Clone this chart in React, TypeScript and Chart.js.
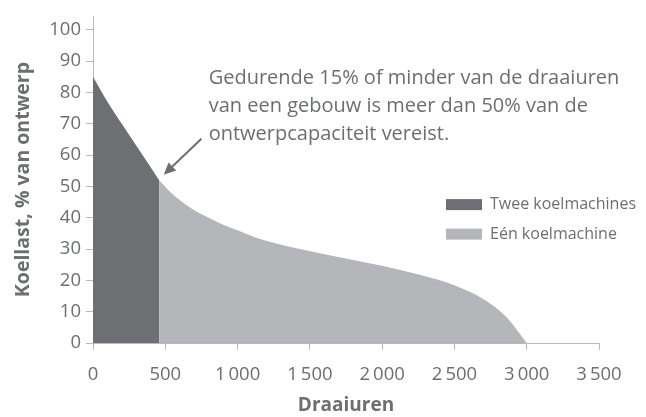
import { useEffect, useRef } from 'react';
import { Chart, registerables } from 'chart.js';

Chart.register(...registerables);

// Data (hours, % of design load)
const hoursTwo = [0, 104, 254, 415, 457];
const loadTwo = [85, 76.7, 66.2, 55.0, 52.0];
const hoursOne = [457, 542, 658, 773, 889, 1004, 1119, 1430, 1661, 2007, 2260, 2491, 2722, 2861, 2953, 3000];
const loadOne = [52.0, 47.9, 43.7, 40.6, 38.0, 35.9, 33.8, 30.0, 27.8, 24.6, 21.8, 18.6, 13.4, 8.2, 2.9, 0];

const xTicks = [0, 500, 1000, 1500, 2000, 2500, 3000, 3500];
const yTicks = [0, 10, 20, 30, 40, 50, 60, 70, 80, 90, 100];

const legendLabels = ['Twee koelmachines', 'Eén koelmachine'];
const xTitle = 'Draaiuren';
const yTitle = 'Koellast, % van ontwerp';
const noteLines = [
  'Gedurende 15% of minder van de draaiuren',
  'van een gebouw is meer dan 50% van de',
  'ontwerpcapaciteit vereist.',
];
const noteAnchor = { x: 800, y: 84.6 };
const arrowFrom = { x: 750, y: 65.2 };
const arrowTo = { x: 489, y: 53.7 };

const DARK = '#6e6f72';
const LIGHT = '#b5b6b9';
const TEXT = '#6d6e70';
const AXIS = '#b9b9b9';
const FONT = "'Open Sans', sans-serif";

function fmtX(v: number): string {
  if (v >= 1000) {
    const th = Math.floor(v / 1000);
    const rest = String(v % 1000).padStart(3, '0');
    return th + '\u2009' + rest;
  }
  return String(v);
}

const overlayPlugin = {
  id: 'overlay',
  afterDraw(chart: any) {
    const { ctx, chartArea, scales } = chart;
    const xs = scales.x;
    const ys = scales.y;
    ctx.save();
    // annotation text
    ctx.fillStyle = TEXT;
    ctx.font = `20px ${FONT}`;
    ctx.textBaseline = 'middle';
    ctx.textAlign = 'left';
    const tx = xs.getPixelForValue(noteAnchor.x);
    const ty = ys.getPixelForValue(noteAnchor.y);
    noteLines.forEach((line, i) => ctx.fillText(line, tx, ty + i * 28));

    // arrow
    const x1 = xs.getPixelForValue(arrowFrom.x);
    const y1 = ys.getPixelForValue(arrowFrom.y);
    const x2 = xs.getPixelForValue(arrowTo.x);
    const y2 = ys.getPixelForValue(arrowTo.y);
    const ang = Math.atan2(y2 - y1, x2 - x1);
    const headLen = 12;
    const headW = 5.5;
    const bx = x2 - headLen * Math.cos(ang);
    const by = y2 - headLen * Math.sin(ang);
    ctx.strokeStyle = TEXT;
    ctx.lineWidth = 2;
    ctx.beginPath();
    ctx.moveTo(x1, y1);
    ctx.lineTo(bx, by);
    ctx.stroke();
    ctx.beginPath();
    ctx.moveTo(x2, y2);
    ctx.lineTo(bx + headW * Math.sin(ang), by - headW * Math.cos(ang));
    ctx.lineTo(bx - headW * Math.sin(ang), by + headW * Math.cos(ang));
    ctx.closePath();
    ctx.fillStyle = TEXT;
    ctx.fill();

    // legend
    const colors = [DARK, LIGHT];
    const lx = chartArea.right - 153;
    const ly = chartArea.top + 183;
    ctx.font = `16px ${FONT}`;
    legendLabels.forEach((lab, i) => {
      const y = ly + i * 29.5;
      ctx.fillStyle = colors[i];
      ctx.fillRect(lx, y, 36, 11);
      ctx.fillStyle = TEXT;
      ctx.fillText(lab, lx + 44, y + 5.5);
    });
    ctx.restore();
  },
};

export default function App() {
  const ref = useRef<HTMLCanvasElement | null>(null);
  useEffect(() => {
    document.body.style.margin = '0';
    const canvas = ref.current;
    if (!canvas) return;
    const chart = new Chart(canvas, {
      type: 'line',
      data: {
        datasets: [
          {
            label: legendLabels[0],
            data: hoursTwo.map((h, i) => ({ x: h, y: loadTwo[i] })),
            fill: 'origin',
            backgroundColor: DARK,
            borderWidth: 0,
            pointRadius: 0,
            cubicInterpolationMode: 'monotone',
          },
          {
            label: legendLabels[1],
            data: hoursOne.map((h, i) => ({ x: h, y: loadOne[i] })),
            fill: 'origin',
            backgroundColor: LIGHT,
            borderWidth: 0,
            pointRadius: 0,
            cubicInterpolationMode: 'monotone',
          },
        ],
      },
      options: {
        responsive: false,
        animation: false,
        layout: { padding: { top: 10, right: 47, left: 0, bottom: 0 } },
        plugins: {
          legend: { display: false },
          tooltip: { enabled: false },
        },
        scales: {
          x: {
            type: 'linear',
            min: 0,
            max: 3500,
            afterBuildTicks: (s: any) => {
              s.ticks = xTicks.map((v) => ({ value: v }));
            },
            afterFit: (s: any) => {
              s.height = 74;
            },
            grid: { drawOnChartArea: false, drawTicks: true, tickLength: 7, color: AXIS },
            border: { display: true, color: AXIS, width: 1 },
            ticks: {
              padding: 14,
              color: TEXT,
              font: { family: FONT, size: 18.5 },
              maxRotation: 0,
              autoSkip: false,
              callback: (v: any) => fmtX(Number(v)),
            },
            title: {
              display: true,
              text: xTitle,
              color: TEXT,
              font: { family: FONT, size: 19, weight: 'bold' },
              padding: { top: 0, bottom: 0 },
            },
          },
          y: {
            type: 'linear',
            min: 0,
            max: 104.4,
            afterBuildTicks: (s: any) => {
              s.ticks = yTicks.map((v) => ({ value: v }));
            },
            afterFit: (s: any) => {
              s.width = 93;
            },
            grid: { drawOnChartArea: false, drawTicks: true, tickLength: 7, color: AXIS },
            border: { display: true, color: AXIS, width: 1 },
            ticks: {
              padding: 5,
              color: TEXT,
              font: { family: FONT, size: 18.5 },
              autoSkip: false,
            },
            title: {
              display: true,
              text: yTitle,
              color: TEXT,
              font: { family: FONT, size: 19.5, weight: 'bold' },
              padding: { top: 12, bottom: 0 },
            },
          },
        },
      },
      plugins: [overlayPlugin],
    } as any);
    return () => chart.destroy();
  }, []);
  return (
    <div style={{ width: 646, height: 417, overflow: 'hidden' }}>
      <canvas ref={ref} width={646} height={417} style={{ display: 'block' }} />
    </div>
  );
}
